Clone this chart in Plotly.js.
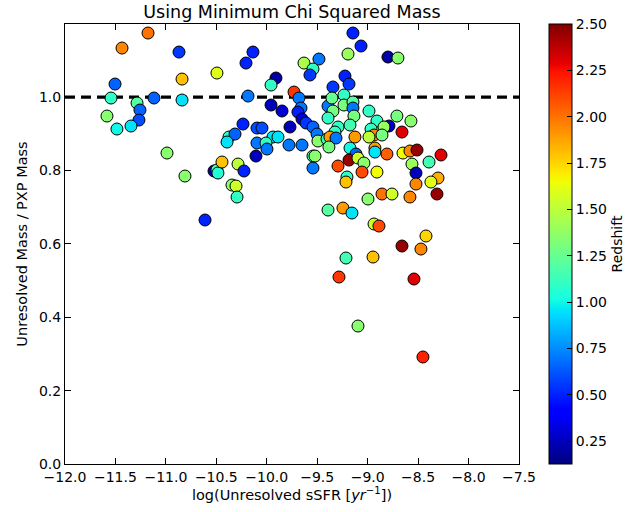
<!DOCTYPE html>
<html>
<head>
<meta charset="utf-8">
<script src="https://cdn.plot.ly/plotly-3.0.1.min.js"></script>
<style>body{margin:0;padding:0;background:#fff}#chart{width:641px;height:512px}</style>
</head>
<body>
<div id="chart"></div>
<script>
// log(Unresolved sSFR)
var ssfr = [-11.435,-11.177,-10.870,-10.494,-11.504,-10.840,-11.544,-11.118,-10.840,-11.286,
-11.257,-11.584,-11.267,-11.485,-11.346,-10.989,-10.811,-10.523,-10.494,-10.484,
-10.444,-10.285,-10.226,-10.345,-10.305,-10.295,-10.612,-10.206,-10.137,-9.631,
-9.483,-9.542,-9.572,-9.909,-9.958,-9.730,-10.186,-9.681,-9.958,-9.849,
-9.661,-9.691,-9.651,-9.611,-9.542,-9.770,-10.236,-10.097,-10.048,-10.375,
-10.315,-10.394,-9.939,-9.889,-10.097,-10.008,-9.998,-9.780,-9.651,-10.107,
-9.502,-9.493,-9.542,-9.522,-9.542,-9.393,-9.344,-9.393,-9.344,-9.354,
-9.225,-9.185,-9.235,-9.235,-9.146,-9.146,-9.136,-9.294,-9.175,-9.324,
-9.403,-9.374,-9.314,-9.384,-9.175,-9.126,-9.116,-9.185,-9.096,-9.294,
-9.205,-9.215,-9.146,-9.066,-9.195,-8.799,-8.700,-8.987,-8.710,-8.571,
-8.908,-8.789,-8.838,-8.967,-8.660,-8.937,-8.987,-8.858,-8.928,-8.928,
-8.809,-8.650,-8.581,-8.511,-8.273,-9.037,-9.056,-8.908,-8.561,-8.392,
-8.521,-8.303,-8.373,-8.521,-8.858,-8.759,-8.581,-8.313,-8.997,-9.393,
-9.245,-9.156,-8.937,-8.888,-8.422,-8.660,-8.472,-9.215,-8.947,-9.284,
-8.541,-9.096,-8.452];
// Unresolved Mass / PXP Mass
var massRatio = [1.1335,1.1744,1.1226,1.0654,1.0354,1.0490,0.9973,0.9973,0.9918,0.9837,
0.9646,0.9482,0.9373,0.9128,0.9210,0.8474,0.7847,0.7984,0.8011,0.7929,
0.8229,0.8174,0.7984,0.7602,0.7575,0.7275,0.6649,1.0926,1.1226,1.0926,
1.1035,1.0763,1.0600,1.0518,1.0327,1.0136,1.0027,0.9973,0.9782,0.9619,
0.9700,0.9591,0.9401,0.9292,0.9183,0.9183,0.9264,0.9155,0.9155,0.8910,
0.8992,0.8774,0.8910,0.8910,0.8747,0.8747,0.8583,0.8692,0.8692,0.8392,
0.8992,0.8801,0.8392,0.8392,0.8065,0.9755,0.9619,0.9428,1.0273,0.9973,
1.0572,1.0354,1.0055,0.9782,0.9864,0.9700,0.9482,0.9183,0.9237,0.9046,
0.8856,0.8910,0.8883,0.8638,0.8610,0.8910,0.8447,0.8283,0.8338,0.8120,
0.7820,0.7684,1.1744,1.1390,1.1172,1.1090,1.1063,0.9619,0.9482,0.9346,
0.9346,0.9210,0.9183,0.9128,0.9046,0.8965,0.8910,0.8965,0.8610,0.8501,
0.8447,0.8474,0.8529,0.8556,0.8420,0.8202,0.7956,0.7956,0.8174,0.8229,
0.7929,0.7793,0.7684,0.7629,0.7357,0.7357,0.7275,0.7357,0.7221,0.6921,
0.6975,0.6839,0.6540,0.6485,0.6213,0.5940,0.5858,0.5613,0.5640,0.5095,
0.5041,0.3760,0.2916];
// Redshift
var redshift = [1.95,2.0,0.55,1.6,0.65,1.8,1.1,0.65,0.95,1.2,
0.65,1.35,0.6,1.0,0.95,1.35,1.35,0.25,1.15,1.05,
1.8,1.5,0.5,1.35,1.55,1.1,0.5,0.5,0.5,1.45,
0.7,1.1,0.55,0.2,1.1,2.15,0.7,0.7,0.25,0.3,
0.7,0.5,0.3,0.55,0.65,0.25,0.5,0.6,0.6,1.1,
0.65,0.95,0.95,0.95,0.7,1.1,0.7,0.7,0.7,0.25,
0.7,1.35,1.15,1.35,0.7,0.7,1.3,1.1,0.55,1.25,
0.5,0.55,1.1,1.3,1.2,0.7,1.3,1.1,1.15,1.1,
1.1,1.9,0.7,1.3,1.0,1.9,0.65,2.45,1.55,2.1,
1.1,1.8,0.5,0.5,1.4,0.2,1.35,1.1,1.3,1.35,
1.1,0.3,1.4,1.1,2.3,1.95,1.5,1.3,1.9,0.95,
2.05,1.65,1.95,2.45,2.3,1.35,2.1,1.65,1.4,1.15,
0.25,1.85,1.6,1.95,2.0,1.55,1.95,2.45,1.35,1.2,
1.9,0.95,1.55,2.1,1.75,2.45,1.95,1.15,1.8,2.15,
2.3,1.35,2.2];
var refLineX = [-12, -7.5];
var refLineY = [1.0, 1.0];
var xTicks = [-12.0,-11.5,-11.0,-10.5,-10.0,-9.5,-9.0,-8.5,-8.0,-7.5];
var yTicks = [0.0,0.2,0.4,0.6,0.8,1.0];
var cbTicks = [0.25,0.5,0.75,1.0,1.25,1.5,1.75,2.0,2.25,2.5];

var jet = [[0,'rgb(0,0,128)'],[0.11,'rgb(0,0,255)'],[0.125,'rgb(0,0,255)'],[0.34,'rgb(0,219,255)'],
[0.35,'rgb(0,230,247)'],[0.375,'rgb(21,255,226)'],[0.64,'rgb(239,255,8)'],[0.65,'rgb(247,245,0)'],
[0.66,'rgb(255,236,0)'],[0.89,'rgb(255,19,0)'],[0.91,'rgb(232,0,0)'],[1,'rgb(128,0,0)']];

var font = 'DejaVu Sans, sans-serif';
var traces = [
  {x: refLineX, y: refLineY, mode: 'lines', type: 'scatter', hoverinfo: 'skip',
   line: {color: 'black', width: 3.3, dash: '10px,6px'}, showlegend: false},
  {x: ssfr, y: massRatio, mode: 'markers', type: 'scatter', showlegend: false,
   marker: {size: 12, color: redshift, colorscale: jet, cmin: 0.126, cmax: 2.5,
     line: {color: 'black', width: 1},
     colorbar: {x: 1.066, xanchor: 'left', y: 0.5, yanchor: 'middle', len: 1, lenmode: 'fraction',
       thickness: 23, thicknessmode: 'pixels', outlinewidth: 1, outlinecolor: 'black',
       tickvals: cbTicks, tickformat: '.2f', ticks: 'inside', ticklen: 5, tickcolor: 'black',
       tickfont: {family: font, size: 14, color: 'black'}, xpad: 0, ypad: 0,
       title: {text: 'Redshift', side: 'right', font: {family: font, size: 14, color: 'black'}}}}}
];
var axisCommon = {showgrid: false, zeroline: false, showline: true, linecolor: 'black', linewidth: 1,
  mirror: 'ticks', ticks: 'inside', ticklen: 6, tickcolor: 'black', tickwidth: 1,
  tickfont: {family: font, size: 14, color: 'black'}};
var layout = {
  width: 641, height: 512,
  margin: {l: 65, r: 122, t: 24, b: 48},
  paper_bgcolor: 'white', plot_bgcolor: 'white',
  title: {text: 'Using Minimum Chi Squared Mass', x: 0.4555, xanchor: 'center', y: 0.977, yanchor: 'middle',
    font: {family: font, size: 17.5, color: 'black'}},
  xaxis: Object.assign({}, axisCommon, {range: [-12, -7.5], tickvals: xTicks, tickformat: '.1f',
    title: {text: 'log(Unresolved sSFR [<i>yr</i><sup>−1</sup>])', standoff: 5,
      font: {family: font, size: 14.5, color: 'black'}}}),
  yaxis: Object.assign({}, axisCommon, {range: [0, 1.199], tickvals: yTicks, tickformat: '.1f',
    title: {text: 'Unresolved Mass / PXP Mass', standoff: 7, font: {family: font, size: 14.5, color: 'black'}}})
};
Plotly.newPlot('chart', traces, layout, {displayModeBar: false, staticPlot: true});
</script>
</body>
</html>
